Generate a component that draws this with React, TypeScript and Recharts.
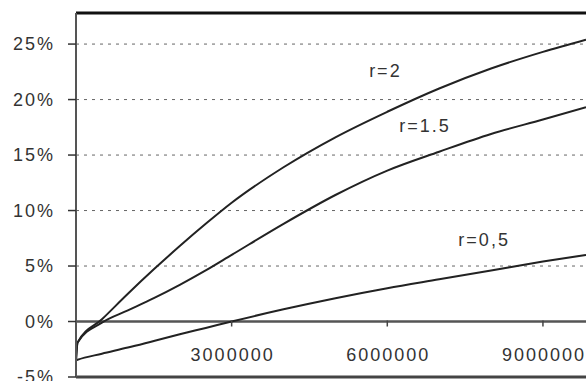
import React from 'react';
import { LineChart, Line, XAxis, YAxis, CartesianGrid, ReferenceLine, ReferenceDot } from 'recharts';

// x positions (units) shared by all three curves
const xValues = [0, 30000, 500000, 1000000, 1500000, 2000000, 2500000, 3000000, 4000000, 5000000, 6000000, 7000000, 8000000, 9000000, 9830000];

// return in % for each r
const r2 = [-3.5, -1.9, 0.2, 2.5, 4.7, 6.8, 8.8, 10.7, 13.9, 16.6, 18.9, 21.0, 22.8, 24.3, 25.4];
const r15 = [-3.5, -1.9, -0.1, 1.0, 2.1, 3.3, 4.6, 6.0, 8.8, 11.4, 13.6, 15.3, 16.9, 18.2, 19.3];
const r05 = [-3.5, -3.45, -2.9, -2.35, -1.75, -1.15, -0.58, 0.0, 1.1, 2.1, 3.0, 3.8, 4.6, 5.4, 6.0];

const xTicks = [3000000, 6000000, 9000000];
const yTicks = [-5, 0, 5, 10, 15, 20, 25];

// curve labels (left edge x, baseline y in %)
const labelNames = ['r=2', 'r=1.5', 'r=0,5'];
const labelX = [5650000, 6230000, 7370000];
const labelY = [22.0, 17.1, 6.8];

const X_MAX = 9830000;
const Y_MIN = -5;
const Y_MAX = 27.8;

const W = 586;
const H = 381;
const M_TOP = 13;
const M_BOTTOM = 3;
const X_AXIS_H = 1;
const PLOT_H = H - M_TOP - M_BOTTOM - X_AXIS_H;
const ZERO_OFFSET = (PLOT_H * (0 - Y_MIN)) / (Y_MAX - Y_MIN);

const FONT = '"Liberation Sans", Arial, sans-serif';
const TEXT = '#333';

const data = xValues.map((x, i) => ({ x, r2: r2[i], r15: r15[i], r05: r05[i] }));

const XTick = (props: any) => {
  const { x, y, payload } = props;
  // tick y sits at the bottom of the axis band; move up to the 0% line
  const zeroY = y - X_AXIS_H - ZERO_OFFSET;
  return (
    <g>
      <line x1={x} x2={x} y1={zeroY} y2={zeroY + 6} stroke="#444" strokeWidth={1.5} />
      <text
        x={x + 1}
        y={zeroY + 40}
        textAnchor="middle"
        fill={TEXT}
        fontSize={18}
        fontFamily={FONT}
        letterSpacing={2}
      >
        {payload.value}
      </text>
    </g>
  );
};

const makeLabel = (text: string) => (props: any) => (
  <text x={props.cx} y={props.cy} fill={TEXT} fontSize={18} fontFamily={FONT} letterSpacing={2}>
    {text}
  </text>
);

export default function App() {
  return (
    <div style={{ position: 'absolute', left: 0, top: 0, background: '#fff' }}>
      <LineChart width={W} height={H} data={data} margin={{ top: M_TOP, right: 0, left: 0, bottom: M_BOTTOM }}>
        <CartesianGrid horizontal vertical={false} stroke="#666" strokeDasharray="3 5" />
        <XAxis
          dataKey="x"
          type="number"
          domain={[0, X_MAX]}
          allowDataOverflow
          ticks={xTicks}
          interval={0}
          height={X_AXIS_H}
          tickSize={0}
          tickMargin={0}
          tickLine={false}
          axisLine={{ stroke: '#444', strokeWidth: 3 }}
          tick={<XTick />}
        />
        <YAxis
          type="number"
          domain={[Y_MIN, Y_MAX]}
          allowDataOverflow
          ticks={yTicks}
          interval={0}
          width={76}
          tickSize={8}
          tickMargin={13}
          tickFormatter={(v: number) => `${v}%`}
          axisLine={{ stroke: '#555', strokeWidth: 2 }}
          tickLine={{ stroke: '#333', strokeWidth: 1.5 }}
          tick={{ fill: TEXT, fontSize: 18, fontFamily: FONT, letterSpacing: 2 }}
        />
        <ReferenceLine y={0} stroke="#555" strokeWidth={2.5} />
        <ReferenceLine y={Y_MAX} stroke="#111" strokeWidth={3} />
        <Line type="monotone" dataKey="r2" stroke="#222" strokeWidth={2} dot={false} isAnimationActive={false} />
        <Line type="monotone" dataKey="r15" stroke="#222" strokeWidth={2} dot={false} isAnimationActive={false} />
        <Line type="monotone" dataKey="r05" stroke="#222" strokeWidth={2} dot={false} isAnimationActive={false} />
        {labelNames.map((name, i) => (
          <ReferenceDot key={name} x={labelX[i]} y={labelY[i]} r={1} shape={makeLabel(name)} />
        ))}
      </LineChart>
    </div>
  );
}
